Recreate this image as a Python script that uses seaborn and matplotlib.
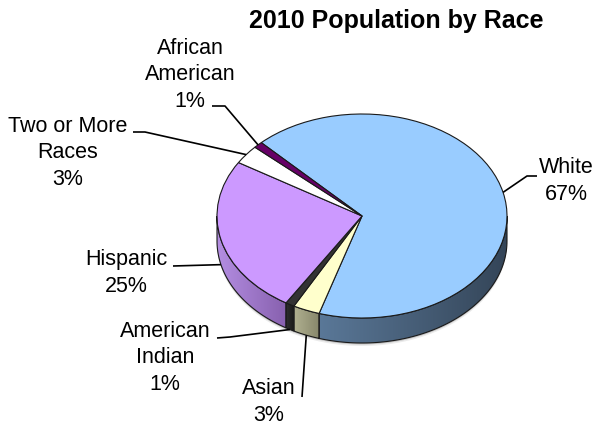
import numpy as np
import matplotlib
matplotlib.use("Agg")
import matplotlib.pyplot as plt
from matplotlib.patches import Polygon
from matplotlib.colors import LinearSegmentedColormap
import seaborn as sns

# Share of the 2010 population by race, listed clockwise from the top-left
races = ["White", "Asian", "American\nIndian", "Hispanic", "Two or More\nRaces", "African\nAmerican"]
shares = [67, 3, 1, 25, 3, 1]
top_colors = ["#99CCFF", "#FFFFCC", "#333333", "#CC99FF", "#FFFFFF", "#660066"]
side_light = ["#5A7898", "#B0B090", "#2E2E2E", "#B48EE2", "#D0D0D0", "#4A004A"]
side_dark = ["#344558", "#86866A", "#1A1A1A", "#8760AE", "#A8A8A8", "#330033"]
title = "2010 Population by Race"

# label block centres and leader-line elbows, in pixels from the top-left
label_xy = [(566, 181), (269, 402), (165, 358), (126, 273), (68, 153), (190, 75)]
elbows = [[(537, 177), (527, 177)], [(302, 398)], [(217, 339), (230, 338)],
          [(173, 267)], [(133, 133), (145, 133)], [(212, 107), (225, 107)]]

W, H = 600, 427
RX, RY = 145, 102          # ellipse semi-axes of the pie top (px)
K = RY / RX
DEPTH = 25                 # thickness of the pie (px)
CX, CY = 362, 217          # centre of the pie top (px)

sns.set_theme(style="white")
plt.rcParams["font.family"] = ["Liberation Sans", "DejaVu Sans"]

fig = plt.figure(figsize=(W / 100, H / 100), dpi=100)
ax = fig.add_axes([0, 0, 1, 1])


def to_data(px, py):
    """Pixel position (from top-left) to data coordinates; y is squashed by K."""
    return px, (H - py) / K


cx, cy = to_data(CX, CY)
depth = DEPTH / K

wedges, _ = ax.pie(shares, colors=top_colors, startangle=134, counterclock=False,
                   radius=RX, center=(cx, cy), frame=True,
                   wedgeprops=dict(edgecolor="#1a1a1a", linewidth=0.8, zorder=3))


def arc(t0, t1, dy=0.0, n=80):
    t = np.radians(np.linspace(t0, t1, n))
    return np.column_stack([cx + RX * np.cos(t), cy + dy + RX * np.sin(t)])


# faint drop shadow under the front rim
for off, alpha in ((1.5, 0.18), (3.0, 0.08)):
    sh = np.vstack([arc(-180, 0, -depth - off / K), arc(0, -180, -depth + 2)])
    ax.add_patch(Polygon(sh, closed=True, facecolor="black", edgecolor="none",
                         alpha=alpha, zorder=0.5))

# side walls of the front half, shaded left to right per slice
for w, c0, c1 in zip(wedges, side_light, side_dark):
    t1, t2 = w.theta1, w.theta2
    for k in (-1, 0, 1):
        lo, hi = max(t1, -180 + 360 * k), min(t2, 360 * k)
        if lo >= hi:
            continue
        pts = np.vstack([arc(lo, hi), arc(hi, lo, -depth)])
        poly = Polygon(pts, closed=True, facecolor="none", edgecolor="#1a1a1a",
                       linewidth=0.8, zorder=2)
        ax.add_patch(poly)
        cmap = LinearSegmentedColormap.from_list("side", [c0, c1])
        img = ax.imshow(np.linspace(0, 1, 256)[None, :], cmap=cmap, aspect="auto",
                        extent=(pts[:, 0].min(), pts[:, 0].max(),
                                pts[:, 1].min(), pts[:, 1].max()),
                        zorder=1, interpolation="bilinear")
        img.set_clip_path(poly)

# labels with leader lines to each slice
for w, name, share, (lx, ly), elb in zip(wedges, races, shares, label_xy, elbows):
    mid = np.radians((w.theta1 + w.theta2) / 2)
    ax_ = cx + RX * np.cos(mid)
    ay_ = cy + RX * np.sin(mid) - (depth if np.sin(mid) < 0 else 0)
    xs = [to_data(*p)[0] for p in elb] + [ax_]
    ys = [to_data(*p)[1] for p in elb] + [ay_]
    ax.plot(xs, ys, color="black", linewidth=1.2, zorder=4, solid_capstyle="butt")
    ax.text(*to_data(lx, ly), f"{name}\n{share}%", ha="center", va="center",
            fontsize=15.5, color="black", linespacing=1.36, zorder=5)

ax.text(*to_data(396, 21), title, ha="center", va="center", fontsize=18,
        fontweight="bold", color="black")

ax.set_xlim(0, W)
ax.set_ylim(0, H / K)
ax.set_aspect("auto")
ax.axis("off")

fig.savefig("out.png", dpi=100, facecolor="white")
